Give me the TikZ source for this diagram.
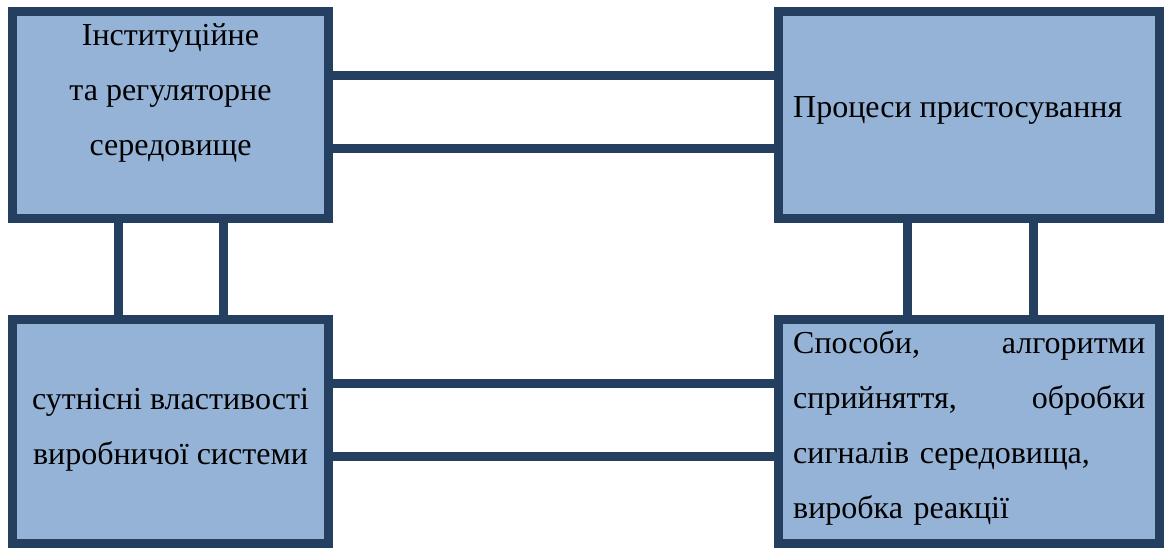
\documentclass[tikz,border=0pt]{standalone}
\usepackage{fontspec}
\setmainfont{Liberation Serif}
\definecolor{boxfill}{HTML}{95B3D7}
\definecolor{boxline}{HTML}{243F60}

\begin{document}
\begin{tikzpicture}[x=1pt,y=-1pt,
    box/.style={draw=boxline,fill=boxfill,line width=9pt,inner sep=0pt,
      minimum height=207pt},
    link/.style={draw=boxline,line width=9pt},
    txt/.style={font=\rmfamily\fontsize{32}{55}\selectfont,inner sep=0pt}]
    \useasboundingbox (0,0) rectangle (1165,549);
    % Boxes
    \node[box,minimum width=316pt] (inst) at (170.5,115) {};
    \node[box,minimum width=381pt] (proc) at (969,115) {};
    \node[box,minimum width=316pt,minimum height=224pt] (sys) at (170.5,431.5) {};
    \node[box,minimum width=381pt,minimum height=224pt] (alg) at (969,431.5) {};
    % Texts
    \node[txt,align=center] (instt) at (170.5,93) {Інституційне\\ та регуляторне\\ середовище};
    \node[txt,anchor=base west] (proct) at (793,117) {Процеси пристосування};
    \node[txt,align=center] (syst) at (170.5,430) {сутнісні властивості\\ виробничої системи};
    \node[txt,text width=352pt,align=left,anchor=west] (algt) at (793,428)
      {Способи,\hfill алгоритми\\ сприйняття,\hfill обробки\\ сигналів середовища,\\ виробка реакції};
    % Links
    \draw[link] (inst.east |- 0,75) -- (proc.west |- 0,75);
    \draw[link] (inst.east |- 0,148) -- (proc.west |- 0,148);
    \draw[link] (sys.east |- 0,383) -- (alg.west |- 0,383);
    \draw[link] (sys.east |- 0,456) -- (alg.west |- 0,456);
    \draw[link] (inst.south -| 118.5,0) -- (sys.north -| 118.5,0);
    \draw[link] (inst.south -| 223.5,0) -- (sys.north -| 223.5,0);
    \draw[link] (proc.south -| 907,0) -- (alg.north -| 907,0);
    \draw[link] (proc.south -| 1033,0) -- (alg.north -| 1033,0);
\end{tikzpicture}
\end{document}
